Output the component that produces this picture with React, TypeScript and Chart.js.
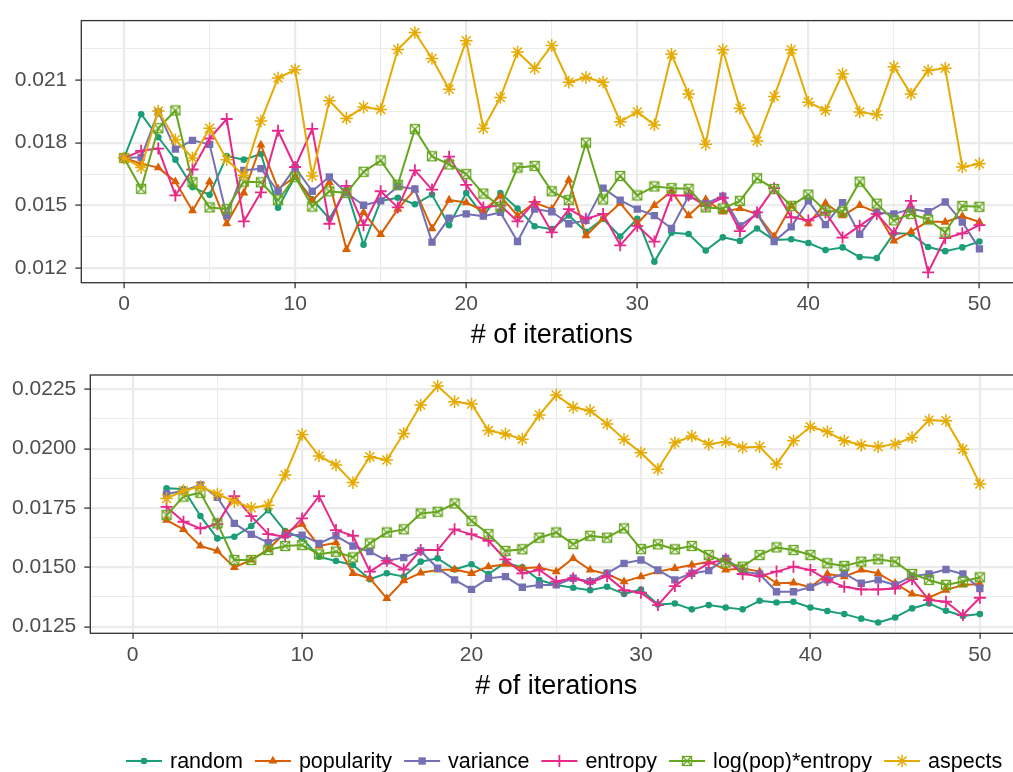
import React, { useEffect, useRef } from 'react';
import { Chart, registerables } from 'chart.js';

Chart.register(...registerables);

const FONT = '"Liberation Sans", Arial, Helvetica, sans-serif';

const SERIES_NAMES = ['random', 'popularity', 'variance', 'entropy', 'log(pop)*entropy', 'aspects'];
const SERIES_COLORS = ['#1B9E77', '#D95F02', '#7570B3', '#E7298A', '#66A61E', '#E6AB02'];

const ITER_TOP = [0, 1, 2, 3, 4, 5, 6, 7, 8, 9, 10, 11, 12, 13, 14, 15, 16, 17, 18, 19, 20, 21, 22, 23, 24, 25,
  26, 27, 28, 29, 30, 31, 32, 33, 34, 35, 36, 37, 38, 39, 40, 41, 42, 43, 44, 45, 46, 47, 48, 49, 50];
const ITER_BOTTOM = [2, 3, 4, 5, 6, 7, 8, 9, 10, 11, 12, 13, 14, 15, 16, 17, 18, 19, 20, 21, 22, 23, 24, 25,
  26, 27, 28, 29, 30, 31, 32, 33, 34, 35, 36, 37, 38, 39, 40, 41, 42, 43, 44, 45, 46, 47, 48, 49, 50];

// ---- top panel ----
const randomTop = [0.01727, 0.01936, 0.01826, 0.01719, 0.01588, 0.01551, 0.01736, 0.01719, 0.01746, 0.01489, 0.01637,
  0.01530, 0.01437, 0.01576, 0.01313, 0.01522, 0.01537, 0.01506, 0.01552, 0.01406, 0.01560, 0.01449, 0.01560, 0.01486,
  0.01401, 0.01387, 0.01452, 0.01375, 0.01437, 0.01352, 0.01437, 0.01232, 0.01370, 0.01364, 0.01285, 0.01348, 0.01331,
  0.01390, 0.01335, 0.01339, 0.01321, 0.01287, 0.01300, 0.01254, 0.01249, 0.01367, 0.01365, 0.01302, 0.01282, 0.01300, 0.01328];
const popularityTop = [0.01727, 0.01700, 0.01681, 0.01614, 0.01475, 0.01614, 0.01413, 0.01560, 0.01789, 0.01579, 0.01637,
  0.01522, 0.01610, 0.01290, 0.01467, 0.01362, 0.01483, 0.01576, 0.01390, 0.01526, 0.01514, 0.01475, 0.01545, 0.01452,
  0.01514, 0.01483, 0.01622, 0.01356, 0.01437, 0.01511, 0.01413, 0.01501, 0.01568, 0.01452, 0.01529, 0.01470, 0.01486,
  0.01460, 0.01352, 0.01498, 0.01413, 0.01511, 0.01452, 0.01501, 0.01467, 0.01331, 0.01375, 0.01424, 0.01421, 0.01449, 0.01421];
const varianceTop = [0.01727, 0.01730, 0.01947, 0.01769, 0.01811, 0.01792, 0.01452, 0.01668, 0.01676, 0.01568, 0.01681,
  0.01568, 0.01637, 0.01560, 0.01501, 0.01522, 0.01591, 0.01579, 0.01325, 0.01440, 0.01460, 0.01449, 0.01467, 0.01328,
  0.01483, 0.01470, 0.01413, 0.01429, 0.01583, 0.01526, 0.01483, 0.01452, 0.01390, 0.01545, 0.01510, 0.01545, 0.01403,
  0.01460, 0.01328, 0.01398, 0.01522, 0.01409, 0.01514, 0.01362, 0.01467, 0.01460, 0.01483, 0.01470, 0.01517, 0.01421, 0.01293];
const entropyTop = [0.01727, 0.01761, 0.01772, 0.01548, 0.01672, 0.01820, 0.01913, 0.01424, 0.01563, 0.01857, 0.01684,
  0.01866, 0.01413, 0.01594, 0.01406, 0.01568, 0.01491, 0.01668, 0.01576, 0.01733, 0.01599, 0.01491, 0.01501, 0.01424,
  0.01517, 0.01372, 0.01483, 0.01437, 0.01460, 0.01310, 0.01403, 0.01328, 0.01548, 0.01548, 0.01498, 0.01537, 0.01378,
  0.01467, 0.01583, 0.01444, 0.01429, 0.01467, 0.01347, 0.01403, 0.01460, 0.01367, 0.01522, 0.01181, 0.01344, 0.01367, 0.01406];
const logPopEntropyTop = [0.01727, 0.01580, 0.01869, 0.01954, 0.01611, 0.01491, 0.01483, 0.01614, 0.01611, 0.01525, 0.01637,
  0.01495, 0.01568, 0.01560, 0.01661, 0.01715, 0.01599, 0.01865, 0.01735, 0.01696, 0.01650, 0.01557, 0.01494, 0.01681,
  0.01689, 0.01568, 0.01526, 0.01800, 0.01529, 0.01641, 0.01548, 0.01591, 0.01583, 0.01580, 0.01491, 0.01486, 0.01522,
  0.01630, 0.01579, 0.01498, 0.01552, 0.01475, 0.01470, 0.01614, 0.01509, 0.01429, 0.01460, 0.01433, 0.01372, 0.01498, 0.01494];
const aspectsTop = [0.01727, 0.01681, 0.01951, 0.01814, 0.01727, 0.01869, 0.01719, 0.01645, 0.01903, 0.02109, 0.02148,
  0.01641, 0.02000, 0.01916, 0.01970, 0.01959, 0.02245, 0.02326, 0.02202, 0.02055, 0.02287, 0.01869, 0.02016, 0.02233,
  0.02155, 0.02264, 0.02089, 0.02112, 0.02089, 0.01900, 0.01947, 0.01885, 0.02222, 0.02032, 0.01792, 0.02244, 0.01965,
  0.01808, 0.02021, 0.02244, 0.01993, 0.01954, 0.02129, 0.01947, 0.01934, 0.02163, 0.02032, 0.02145, 0.02155, 0.01684, 0.01699];

// ---- bottom panel ----
const randomBottom = [0.01833, 0.01830, 0.01716, 0.01622, 0.01629, 0.01674, 0.01741, 0.01653, 0.01622, 0.01545, 0.01527,
  0.01510, 0.01450, 0.01475, 0.01461, 0.01524, 0.01538, 0.01491, 0.01513, 0.01472, 0.01520, 0.01500, 0.01447, 0.01426,
  0.01414, 0.01404, 0.01418, 0.01388, 0.01407, 0.01344, 0.01348, 0.01323, 0.01341, 0.01331, 0.01323, 0.01359, 0.01352,
  0.01355, 0.01331, 0.01316, 0.01303, 0.01284, 0.01268, 0.01289, 0.01327, 0.01348, 0.01317, 0.01295, 0.01303];
const popularityBottom = [0.01699, 0.01660, 0.01590, 0.01569, 0.01500, 0.01531, 0.01576, 0.01646, 0.01682, 0.01590, 0.01604,
  0.01475, 0.01454, 0.01369, 0.01444, 0.01477, 0.01489, 0.01491, 0.01475, 0.01503, 0.01513, 0.01496, 0.01500, 0.01482,
  0.01538, 0.01489, 0.01472, 0.01440, 0.01461, 0.01482, 0.01496, 0.01510, 0.01524, 0.01489, 0.01496, 0.01482, 0.01433,
  0.01435, 0.01416, 0.01472, 0.01461, 0.01489, 0.01475, 0.01433, 0.01388, 0.01373, 0.01404, 0.01426, 0.01430];
const varianceBottom = [0.01809, 0.01823, 0.01847, 0.01795, 0.01685, 0.01639, 0.01604, 0.01636, 0.01636, 0.01601, 0.01633,
  0.01590, 0.01566, 0.01528, 0.01541, 0.01569, 0.01496, 0.01447, 0.01407, 0.01454, 0.01461, 0.01416, 0.01426, 0.01426,
  0.01454, 0.01440, 0.01475, 0.01517, 0.01531, 0.01489, 0.01447, 0.01475, 0.01486, 0.01538, 0.01482, 0.01472, 0.01397,
  0.01397, 0.01416, 0.01447, 0.01475, 0.01433, 0.01447, 0.01426, 0.01463, 0.01472, 0.01491, 0.01472, 0.01411];
const entropyBottom = [0.01755, 0.01692, 0.01664, 0.01682, 0.01800, 0.01716, 0.01640, 0.01629, 0.01706, 0.01800, 0.01657,
  0.01633, 0.01482, 0.01528, 0.01491, 0.01573, 0.01573, 0.01660, 0.01639, 0.01612, 0.01534, 0.01475, 0.01489, 0.01440,
  0.01454, 0.01435, 0.01463, 0.01404, 0.01393, 0.01341, 0.01421, 0.01475, 0.01517, 0.01534, 0.01472, 0.01463, 0.01482,
  0.01503, 0.01489, 0.01447, 0.01418, 0.01407, 0.01407, 0.01411, 0.01450, 0.01362, 0.01355, 0.01299, 0.01372];
const logPopEntropyBottom = [0.01720, 0.01798, 0.01814, 0.01685, 0.01531, 0.01531, 0.01573, 0.01590, 0.01594, 0.01555, 0.01566,
  0.01542, 0.01601, 0.01647, 0.01660, 0.01727, 0.01734, 0.01769, 0.01696, 0.01640, 0.01569, 0.01576, 0.01625, 0.01647,
  0.01598, 0.01633, 0.01625, 0.01664, 0.01577, 0.01597, 0.01576, 0.01590, 0.01552, 0.01520, 0.01503, 0.01552, 0.01584,
  0.01573, 0.01552, 0.01517, 0.01506, 0.01524, 0.01534, 0.01524, 0.01472, 0.01447, 0.01426, 0.01440, 0.01458];
const aspectsBottom = [0.01790, 0.01823, 0.01840, 0.01809, 0.01777, 0.01751, 0.01762, 0.01889, 0.02060, 0.01969, 0.01931,
  0.01857, 0.01966, 0.01952, 0.02064, 0.02184, 0.02264, 0.02198, 0.02188, 0.02076, 0.02062, 0.02040, 0.02142, 0.02226,
  0.02174, 0.02160, 0.02104, 0.02039, 0.01983, 0.01913, 0.02025, 0.02053, 0.02019, 0.02029, 0.02005, 0.02008, 0.01935,
  0.02033, 0.02092, 0.02071, 0.02033, 0.02015, 0.02008, 0.02019, 0.02047, 0.02120, 0.02118, 0.01997, 0.01851];

// ---- ticks ----
const X_TICKS = [0, 5, 10, 15, 20, 25, 30, 35, 40, 45, 50];
const X_LABELS = ['0', '', '10', '', '20', '', '30', '', '40', '', '50'];
const Y_TICKS_TOP = [0.012, 0.0135, 0.015, 0.0165, 0.018, 0.0195, 0.021, 0.0225];
const Y_LABELS_TOP = ['0.012', '', '0.015', '', '0.018', '', '0.021', ''];
const Y_TICKS_BOTTOM = [0.0125, 0.01375, 0.015, 0.01625, 0.0175, 0.01875, 0.02, 0.02125, 0.0225];
const Y_LABELS_BOTTOM = ['0.0125', '', '0.0150', '', '0.0175', '', '0.0200', '', '0.0225'];
const X_TITLE = '# of iterations';

type MarkerSpec = { style: string; radius: number; borderWidth: number };
const MARKERS: MarkerSpec[] = [
  { style: 'circle', radius: 3.3, borderWidth: 0 },
  { style: 'triangle', radius: 5.2, borderWidth: 0 },
  { style: 'rect', radius: 5.2, borderWidth: 0 },
  { style: 'cross', radius: 6, borderWidth: 1.8 },
  { style: 'boxcross', radius: 5, borderWidth: 1.3 },
  { style: 'star', radius: 6.3, borderWidth: 1.5 },
];

function makeBoxCross(color: string): HTMLCanvasElement {
  const c = document.createElement('canvas');
  c.width = 12;
  c.height = 12;
  const g = c.getContext('2d')!;
  g.strokeStyle = color;
  g.lineWidth = 1.3;
  g.strokeRect(1.5, 1.5, 9, 9);
  g.beginPath();
  g.moveTo(1.5, 1.5);
  g.lineTo(10.5, 10.5);
  g.moveTo(10.5, 1.5);
  g.lineTo(1.5, 10.5);
  g.stroke();
  return c;
}

function drawMarker(ctx: CanvasRenderingContext2D, k: number, x: number, y: number, img: HTMLCanvasElement) {
  const m = MARKERS[k];
  const color = SERIES_COLORS[k];
  const r = m.radius;
  ctx.save();
  ctx.fillStyle = color;
  ctx.strokeStyle = color;
  ctx.lineWidth = m.borderWidth;
  ctx.beginPath();
  if (m.style === 'circle') {
    ctx.arc(x, y, r, 0, Math.PI * 2);
    ctx.fill();
  } else if (m.style === 'triangle') {
    for (let i = 0; i < 3; i++) {
      const a = (i * 2 * Math.PI) / 3;
      const px = x + Math.sin(a) * r;
      const py = y - Math.cos(a) * r;
      if (i === 0) ctx.moveTo(px, py);
      else ctx.lineTo(px, py);
    }
    ctx.closePath();
    ctx.fill();
  } else if (m.style === 'rect') {
    const s = Math.SQRT1_2 * r;
    ctx.fillRect(x - s, y - s, 2 * s, 2 * s);
  } else if (m.style === 'cross') {
    ctx.moveTo(x - r, y);
    ctx.lineTo(x + r, y);
    ctx.moveTo(x, y - r);
    ctx.lineTo(x, y + r);
    ctx.stroke();
  } else if (m.style === 'star') {
    const d = r * Math.SQRT1_2;
    ctx.moveTo(x - r, y);
    ctx.lineTo(x + r, y);
    ctx.moveTo(x, y - r);
    ctx.lineTo(x, y + r);
    ctx.moveTo(x - d, y - d);
    ctx.lineTo(x + d, y + d);
    ctx.moveTo(x + d, y - d);
    ctx.lineTo(x - d, y + d);
    ctx.stroke();
  } else {
    ctx.drawImage(img, Math.round(x - img.width / 2), Math.round(y - img.height / 2));
  }
  ctx.restore();
}

function makeDatasets(xs: number[], series: number[][], boxImg: HTMLCanvasElement) {
  return series.map((vals, k) => {
    const m = MARKERS[k];
    return {
      label: SERIES_NAMES[k],
      data: xs.map((x, j) => ({ x, y: vals[j] })),
      borderColor: SERIES_COLORS[k],
      backgroundColor: SERIES_COLORS[k],
      borderWidth: 2,
      borderJoinStyle: 'round',
      borderCapStyle: 'round',
      tension: 0,
      pointStyle: m.style === 'boxcross' ? boxImg : m.style,
      pointRadius: m.radius,
      pointBorderWidth: m.borderWidth,
      pointBackgroundColor: SERIES_COLORS[k],
      pointBorderColor: SERIES_COLORS[k],
      order: 6 - k,
    };
  });
}

const panelBorder = {
  id: 'panelBorder',
  afterDraw(chart: any) {
    const { left, top, right, bottom } = chart.chartArea;
    const ctx = chart.ctx;
    ctx.save();
    ctx.strokeStyle = '#333333';
    ctx.lineWidth = 1.3;
    ctx.strokeRect(left, top, right - left, bottom - top);
    ctx.restore();
  },
};

type PanelCfg = {
  yMin: number;
  yMax: number;
  yTicks: number[];
  yLabels: string[];
  padTop: number;
  padRight: number;
  padBottom: number;
  yWidth: number;
  xHeight: number;
};

function buildOptions(cfg: PanelCfg): any {
  const tickFont = { family: FONT, size: 21 };
  return {
    responsive: false,
    animation: false,
    events: [],
    layout: { padding: { top: cfg.padTop, left: 0, right: cfg.padRight, bottom: cfg.padBottom } },
    plugins: { legend: { display: false }, tooltip: { enabled: false }, title: { display: false } },
    scales: {
      x: {
        type: 'linear',
        min: -2.5,
        max: 52.5,
        afterBuildTicks: (s: any) => {
          s.ticks = X_TICKS.map((v) => ({ value: v }));
        },
        afterFit: (s: any) => {
          s.height = cfg.xHeight;
        },
        border: { display: false },
        grid: {
          color: '#EBEBEB',
          lineWidth: (c: any) => (X_LABELS[c.index] === '' ? 1.1 : 2.2),
          tickColor: (c: any) => (X_LABELS[c.index] === '' ? 'rgba(0,0,0,0)' : '#333333'),
          tickLength: 5.5,
          tickWidth: 1.3,
        },
        ticks: {
          font: tickFont,
          color: '#4D4D4D',
          padding: 3.4,
          maxRotation: 0,
          autoSkip: false,
          callback: (_v: any, i: number) => X_LABELS[i],
        },
        title: {
          display: true,
          text: X_TITLE,
          color: '#000000',
          font: { family: FONT, size: 27 },
          padding: { top: 0, bottom: 0 },
        },
      },
      y: {
        type: 'linear',
        min: cfg.yMin,
        max: cfg.yMax,
        afterBuildTicks: (s: any) => {
          s.ticks = cfg.yTicks.map((v) => ({ value: v }));
        },
        afterFit: (s: any) => {
          s.width = cfg.yWidth;
        },
        border: { display: false },
        grid: {
          color: '#EBEBEB',
          lineWidth: (c: any) => (cfg.yLabels[c.index] === '' ? 1.1 : 2.2),
          tickColor: (c: any) => (cfg.yLabels[c.index] === '' ? 'rgba(0,0,0,0)' : '#333333'),
          tickLength: 6,
          tickWidth: 1.3,
        },
        ticks: {
          font: tickFont,
          color: '#4D4D4D',
          padding: 8,
          autoSkip: false,
          callback: (_v: any, i: number) => cfg.yLabels[i],
        },
      },
    },
  };
}

const LEGEND_X0 = 126;
const LEGEND_Y = 409;
const LEGEND_KEY = 36;

function makeLegendPlugin(boxImg: HTMLCanvasElement) {
  return {
    id: 'ggLegend',
    afterDraw(chart: any) {
      const ctx: CanvasRenderingContext2D = chart.ctx;
      ctx.save();
      ctx.font = `21.5px ${FONT}`;
      ctx.textBaseline = 'middle';
      ctx.textAlign = 'left';
      let x = LEGEND_X0;
      SERIES_NAMES.forEach((name, k) => {
        ctx.strokeStyle = SERIES_COLORS[k];
        ctx.lineWidth = 2;
        ctx.beginPath();
        ctx.moveTo(x, LEGEND_Y);
        ctx.lineTo(x + LEGEND_KEY, LEGEND_Y);
        ctx.stroke();
        drawMarker(ctx, k, x + LEGEND_KEY / 2, LEGEND_Y, boxImg);
        ctx.fillStyle = '#000000';
        ctx.fillText(name, x + LEGEND_KEY + 8, LEGEND_Y + 1);
        x += LEGEND_KEY + 8 + ctx.measureText(name).width + 12;
      });
      ctx.restore();
    },
  };
}

export default function App() {
  const topRef = useRef<HTMLCanvasElement | null>(null);
  const botRef = useRef<HTMLCanvasElement | null>(null);

  useEffect(() => {
    const boxImg = makeBoxCross(SERIES_COLORS[4]);
    const top = new Chart(topRef.current!, {
      type: 'line',
      data: {
        datasets: makeDatasets(
          ITER_TOP,
          [randomTop, popularityTop, varianceTop, entropyTop, logPopEntropyTop, aspectsTop],
          boxImg
        ) as any,
      },
      options: buildOptions({
        yMin: 0.011314,
        yMax: 0.02383,
        yTicks: Y_TICKS_TOP,
        yLabels: Y_LABELS_TOP,
        padTop: 14.3,
        padRight: 3,
        padBottom: 0,
        yWidth: 81.3,
        xHeight: 69.3,
      }),
      plugins: [panelBorder],
    });
    const bottom = new Chart(botRef.current!, {
      type: 'line',
      data: {
        datasets: makeDatasets(
          ITER_BOTTOM,
          [randomBottom, popularityBottom, varianceBottom, entropyBottom, logPopEntropyBottom, aspectsBottom],
          boxImg
        ) as any,
      },
      options: buildOptions({
        yMin: 0.012222,
        yMax: 0.023102,
        yTicks: Y_TICKS_BOTTOM,
        yLabels: Y_LABELS_BOTTOM,
        padTop: 23,
        padRight: 6,
        padBottom: 68.8,
        yWidth: 90.3,
        xHeight: 69.9,
      }),
      plugins: [panelBorder, makeLegendPlugin(boxImg)],
    });
    return () => {
      top.destroy();
      bottom.destroy();
    };
  }, []);

  return (
    <div
      style={{
        position: 'absolute',
        left: 0,
        top: 0,
        width: 1013,
        height: 772,
        overflow: 'hidden',
        background: '#ffffff',
      }}
    >
      <canvas
        ref={topRef}
        width={1030}
        height={352}
        style={{ position: 'absolute', left: 0, top: 0, width: 1030, height: 352 }}
      />
      <canvas
        ref={botRef}
        width={1030}
        height={420}
        style={{ position: 'absolute', left: 0, top: 352, width: 1030, height: 420 }}
      />
    </div>
  );
}
